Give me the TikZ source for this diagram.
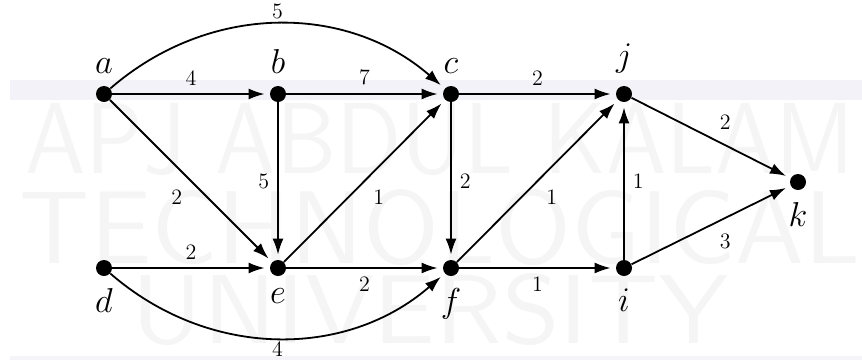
\documentclass[tikz,border=0pt]{standalone}
\usepackage{graphicx}
\usetikzlibrary{arrows.meta,positioning}

\begin{document}
\begin{tikzpicture}[x=0.5pt,y=-0.5pt,
 vtx/.style={circle,fill=black,inner sep=0pt,minimum size=8pt},
 vlbl/.style={font=\fontsize{18}{21}\selectfont,label distance=2.5pt},
 wt/.style={font=\fontsize{11}{12}\selectfont,inner sep=4pt},
 ar/.style={-{Latex[length=8pt,width=5.5pt]},line width=0.9pt,shorten >=2.5pt},
 wmark/.style={text=black!4,inner sep=0pt,font=\sffamily}]
\useasboundingbox (0,0) rectangle (862,360);
% background band and watermark
\fill[blue!30!gray!8] (10,80) rectangle (862,100);
\fill[blue!30!gray!7] (10,356) rectangle (862,360);
\node[wmark] (w1) at (440,140) {\resizebox{415pt}{35pt}{APJ ABDUL KALAM}};
\node[wmark] (w2) at (440,228) {\resizebox{420pt}{37pt}{TECHNOLOGICAL}};
\node[wmark] (w3) at (430,310) {\resizebox{298pt}{35pt}{UNIVERSITY}};
% vertices
\node[vtx,label={[vlbl]above:$a$}] (a) at (104,94) {};
\node[vtx,label={[vlbl]above:$b$}] (b) at (278,94) {};
\node[vtx,label={[vlbl]above:$c$}] (c) at (451,94) {};
\node[vtx,label={[vlbl]above:$j$}] (j) at (624,94) {};
\node[vtx,label={[vlbl]below:$k$}] (k) at (798,182) {};
\node[vtx,label={[vlbl]below:$d$}] (d) at (104,268) {};
\node[vtx,label={[vlbl]below:$e$}] (e) at (278,268) {};
\node[vtx,label={[vlbl]below:$f$}] (f) at (451,268) {};
\node[vtx,label={[vlbl]below:$i$}] (i) at (624,268) {};
% edges
\draw[ar] (a) to[bend left=41] node[wt,above,inner sep=2pt] {5} (c);
\draw[ar] (a) -- node[wt,above] {4} (b);
\draw[ar] (b) -- node[wt,above] {7} (c);
\draw[ar] (c) -- node[wt,above] {2} (j);
\draw[ar] (j) -- node[wt,above right] {2} (k);
\draw[ar] (a) -- node[wt,below left] {2} (e);
\draw[ar] (b) -- node[wt,left] {5} (e);
\draw[ar] (e) -- node[wt,below right] {1} (c);
\draw[ar] (c) -- node[wt,right] {2} (f);
\draw[ar] (f) -- node[wt,below right] {1} (j);
\draw[ar] (i) -- node[wt,right] {1} (j);
\draw[ar] (d) -- node[wt,above] {2} (e);
\draw[ar] (e) -- node[wt,below] {2} (f);
\draw[ar] (f) -- node[wt,below] {1} (i);
\draw[ar] (i) -- node[wt,below right] {3} (k);
\draw[ar] (d) to[bend right=41] node[wt,below,inner sep=1.5pt] {4} (f);
\end{tikzpicture}
\end{document}
